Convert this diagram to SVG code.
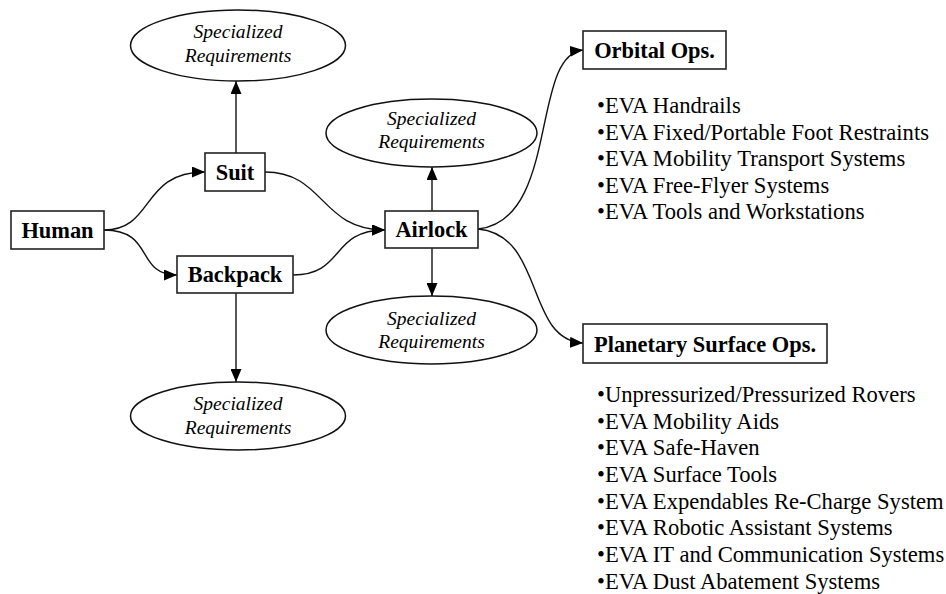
<svg xmlns="http://www.w3.org/2000/svg" width="946" height="594" viewBox="0 0 946 594">
<style>
.box{fill:#fff;stroke:#222;stroke-width:1.6}
.ell{fill:#fff;stroke:#111;stroke-width:1.5}
.lbl{font-family:"Liberation Serif","Times New Roman",serif;font-weight:bold;font-size:22.4px;fill:#000;text-anchor:middle}
.req{font-family:"Liberation Serif","Times New Roman",serif;font-style:italic;font-size:19.5px;fill:#000;text-anchor:middle}
.lst{font-family:"Liberation Serif","Times New Roman",serif;font-size:22.6px;fill:#000}
.con{fill:none;stroke:#111;stroke-width:1.4}
</style>
<defs>
<marker id="ah" viewBox="0 0 13 11" refX="13" refY="5.5" markerWidth="13" markerHeight="11" markerUnits="userSpaceOnUse" orient="auto">
<path d="M0,0 L13,5.5 L0,11 Z" fill="#000"/>
</marker>
</defs>
<rect width="946" height="594" fill="#fff"/>
<g id="connectors">
<path class="con" d="M104,230 C155,230 140,172 205,172" marker-end="url(#ah)"/>
<path class="con" d="M104,230 C155,230 135,275 177,275" marker-end="url(#ah)"/>
<path class="con" d="M265,172 C325,172 320,230 385,230" marker-end="url(#ah)"/>
<path class="con" d="M293,275 C345,275 330,230 385,230" marker-end="url(#ah)"/>
<path class="con" d="M236,153 L236,81" marker-end="url(#ah)"/>
<path class="con" d="M236,293 L236,382" marker-end="url(#ah)"/>
<path class="con" d="M432,211 L432,167" marker-end="url(#ah)"/>
<path class="con" d="M432,248 L432,296" marker-end="url(#ah)"/>
<path class="con" d="M478,229 C560,220 530,55 583,50" marker-end="url(#ah)"/>
<path class="con" d="M478,229 C545,235 525,340 583,343" marker-end="url(#ah)"/>
</g>
<g id="req1"><ellipse class="ell" cx="238" cy="45.5" rx="107.5" ry="35.5"/><text class="req" x="238" y="38">Specialized</text><text class="req" x="238" y="62">Requirements</text></g>
<g id="req2"><ellipse class="ell" cx="238" cy="416" rx="107.5" ry="34"/><text class="req" x="238" y="410">Specialized</text><text class="req" x="238" y="434">Requirements</text></g>
<g id="req3"><ellipse class="ell" cx="431.5" cy="133" rx="105.5" ry="34"/><text class="req" x="431.5" y="125">Specialized</text><text class="req" x="431.5" y="148">Requirements</text></g>
<g id="req4"><ellipse class="ell" cx="431.5" cy="330" rx="105.5" ry="34"/><text class="req" x="431.5" y="325">Specialized</text><text class="req" x="431.5" y="348">Requirements</text></g>
<g id="human"><rect class="box" x="11" y="211" width="93" height="38"/><text class="lbl" x="57.5" y="238">Human</text></g>
<g id="suit"><rect class="box" x="205" y="153" width="60" height="38"/><text class="lbl" x="235" y="180">Suit</text></g>
<g id="backpack"><rect class="box" x="177" y="256" width="116" height="37"/><text class="lbl" x="235" y="282">Backpack</text></g>
<g id="airlock"><rect class="box" x="385" y="211" width="93" height="37"/><text class="lbl" x="431.5" y="237">Airlock</text></g>
<g id="orbital"><rect class="box" x="583" y="31" width="143" height="38"/><text class="lbl" x="654.5" y="58">Orbital Ops.</text></g>
<g id="planetary"><rect class="box" x="583" y="324" width="244" height="39"/><text class="lbl" x="705" y="352">Planetary Surface Ops.</text></g>
<g id="orbital-list">
<text class="lst" x="597" y="113">•EVA Handrails</text>
<text class="lst" x="597" y="139.5">•EVA Fixed/Portable Foot Restraints</text>
<text class="lst" x="597" y="166">•EVA Mobility Transport Systems</text>
<text class="lst" x="597" y="192.5">•EVA Free-Flyer Systems</text>
<text class="lst" x="597" y="219">•EVA Tools and Workstations</text>
</g>
<g id="planetary-list">
<text class="lst" x="597" y="402">•Unpressurized/Pressurized Rovers</text>
<text class="lst" x="597" y="428.7">•EVA Mobility Aids</text>
<text class="lst" x="597" y="455.3">•EVA Safe-Haven</text>
<text class="lst" x="597" y="482">•EVA Surface Tools</text>
<text class="lst" x="597" y="508.7">•EVA Expendables Re-Charge System</text>
<text class="lst" x="597" y="535.3">•EVA Robotic Assistant Systems</text>
<text class="lst" x="597" y="562">•EVA IT and Communication Systems</text>
<text class="lst" x="597" y="588.7">•EVA Dust Abatement Systems</text>
</g>
</svg>
